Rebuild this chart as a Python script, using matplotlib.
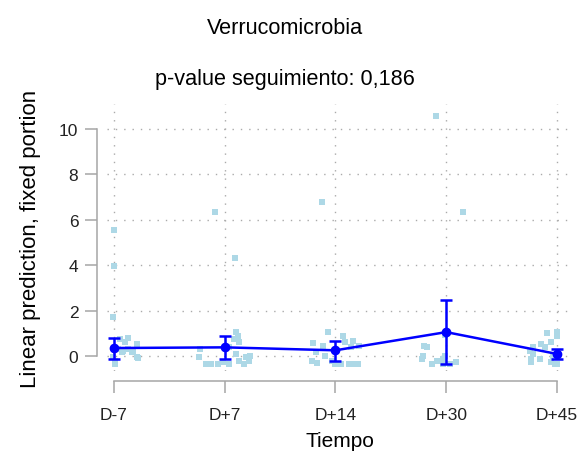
import numpy as np
import matplotlib
matplotlib.use("Agg")
import matplotlib.pyplot as plt

plt.rcParams['font.family'] = ['Liberation Sans', 'DejaVu Sans']

# tiempo categories
tiempos = ['D-7', 'D+7', 'D+14', 'D+30', 'D+45']

d_m7_off = [0, 0, -0.01, 0.13, 0.05, 0.21, 0.10, 0.08, 0.17, 0.22, 0.01, -0.01, 0.13, 0.04, 0.01, 0.07, 0.21, 0.16]
d_m7_val = [5.55, 3.97, 1.71, 0.8, 0.75, 0.53, 0.6, 0.22, 0.17, -0.1, -0.35, -0.05, 0.3, 0.3, -0.2, 0.17, -0.05, 0.17]

d_p7_off = [-0.09, 0.09, 0.10, 0.12, 0.08, 0.13, 0.04, -0.22, -0.23, -0.17, -0.12, -0.06, -0.02, 0.04, 0.13, 0.19, 0.22, 0.17, 0.23, 0.10, 0.0]
d_p7_val = [6.34, 4.3, 1.05, 0.88, 0.75, 0.6, 0.4, 0.3, -0.05, -0.35, -0.35, -0.35, -0.27, -0.35, -0.2, -0.05, -0.2, -0.35, 0.0, 0.1, 0.38]

d_p14_off = [-0.12, -0.07, -0.20, -0.11, 0.07, 0.09, 0.16, 0.14, 0.21, -0.18, -0.21, -0.17, -0.09, 0, -0.03, 0.12, 0.16, 0.05, 0.20]
d_p14_val = [6.77, 1.05, 0.55, 0.45, 0.88, 0.6, 0.68, 0.4, 0.42, 0.17, -0.22, -0.3, 0.0, -0.35, -0.2, -0.35, -0.35, -0.35, -0.35]

d_p30_off = [-0.09, 0.15, -0.20, -0.17, -0.21, -0.22, -0.13, -0.08, -0.03, -0.01, -0.03, 0.03, 0.09, -0.01]
d_p30_val = [10.56, 6.34, 0.45, 0.4, 0.0, -0.15, -0.35, -0.2, -0.13, 0.0, -0.35, -0.35, -0.27, 0.92]

d_p45_off = [0, 0, -0.09, -0.05, -0.14, -0.22, -0.11, -0.24, -0.22, -0.23, -0.23, -0.15, -0.05, -0.02, 0, -0.04]
d_p45_val = [1.05, 0.88, 1.0, 0.6, 0.53, 0.4, 0.4, 0.22, 0.1, -0.13, -0.27, -0.13, -0.27, -0.35, -0.35, 0.0]

# linear prediction (fixed portion) with 95% CI
pred = [0.35, 0.38, 0.25, 1.05, 0.09]
ci_lo = [-0.12, -0.13, -0.2, -0.35, -0.14]
ci_hi = [0.81, 0.87, 0.68, 2.45, 0.31]

offsets = [d_m7_off, d_p7_off, d_p14_off, d_p30_off, d_p45_off]
values = [d_m7_val, d_p7_val, d_p14_val, d_p30_val, d_p45_val]

fig = plt.figure(figsize=(5.86, 4.6), dpi=100)
ax = fig.add_axes([0.1826, 0.1913, 0.7952, 0.5804])

# raw data
for i, (off, val) in enumerate(zip(offsets, values)):
    xs = i + np.array(off)
    ax.scatter(xs, val, marker='s', s=17, color='#add8e6', linewidths=0, zorder=2)

# predictions with CI
x = np.arange(len(tiempos))
pred = np.array(pred)
yerr = [pred - np.array(ci_lo), np.array(ci_hi) - pred]
ax.errorbar(x, pred, yerr=yerr, fmt='-o', color='#0000ff', lw=1.8, elinewidth=1.8,
            capsize=4.5, capthick=1.8, markersize=6, zorder=3)

ax.set_xlim(-0.063, 4.145)
ax.set_ylim(-0.66, 11.08)
ax.set_xticks(x)
ax.set_xticklabels(tiempos)
ax.set_yticks([0, 2, 4, 6, 8, 10])

ax.grid(True, color='#aaaaaa', linestyle=(0, (1, 5)), linewidth=1.0)
ax.set_axisbelow(True)

for side in ['top', 'right']:
    ax.spines[side].set_visible(False)
ax.spines['left'].set_position(('outward', 7.2))
ax.spines['bottom'].set_position(('outward', 7.2))
ax.spines['left'].set_bounds(0, 10)
ax.spines['bottom'].set_bounds(0, 4)
for side in ['left', 'bottom']:
    ax.spines[side].set_color('#a6a6a6')
    ax.spines[side].set_linewidth(1.1)

ax.tick_params(axis='both', length=8.5, width=1.1, color='#a6a6a6',
               labelcolor='#222222', labelsize=12.5)
ax.tick_params(axis='y', pad=5)
ax.tick_params(axis='x', pad=10)

ax.set_xlabel('Tiempo', fontsize=15, labelpad=7)
ax.set_ylabel('Linear prediction, fixed portion', fontsize=16, labelpad=13)

fig.text(0.487, 1 - 28 / 460, 'Verrucomicrobia', ha='center', va='center', fontsize=15.6)
fig.text(0.487, 1 - 80 / 460, 'p-value seguimiento: 0,186', ha='center', va='center', fontsize=15.6)

plt.savefig('out.png', dpi=100)
